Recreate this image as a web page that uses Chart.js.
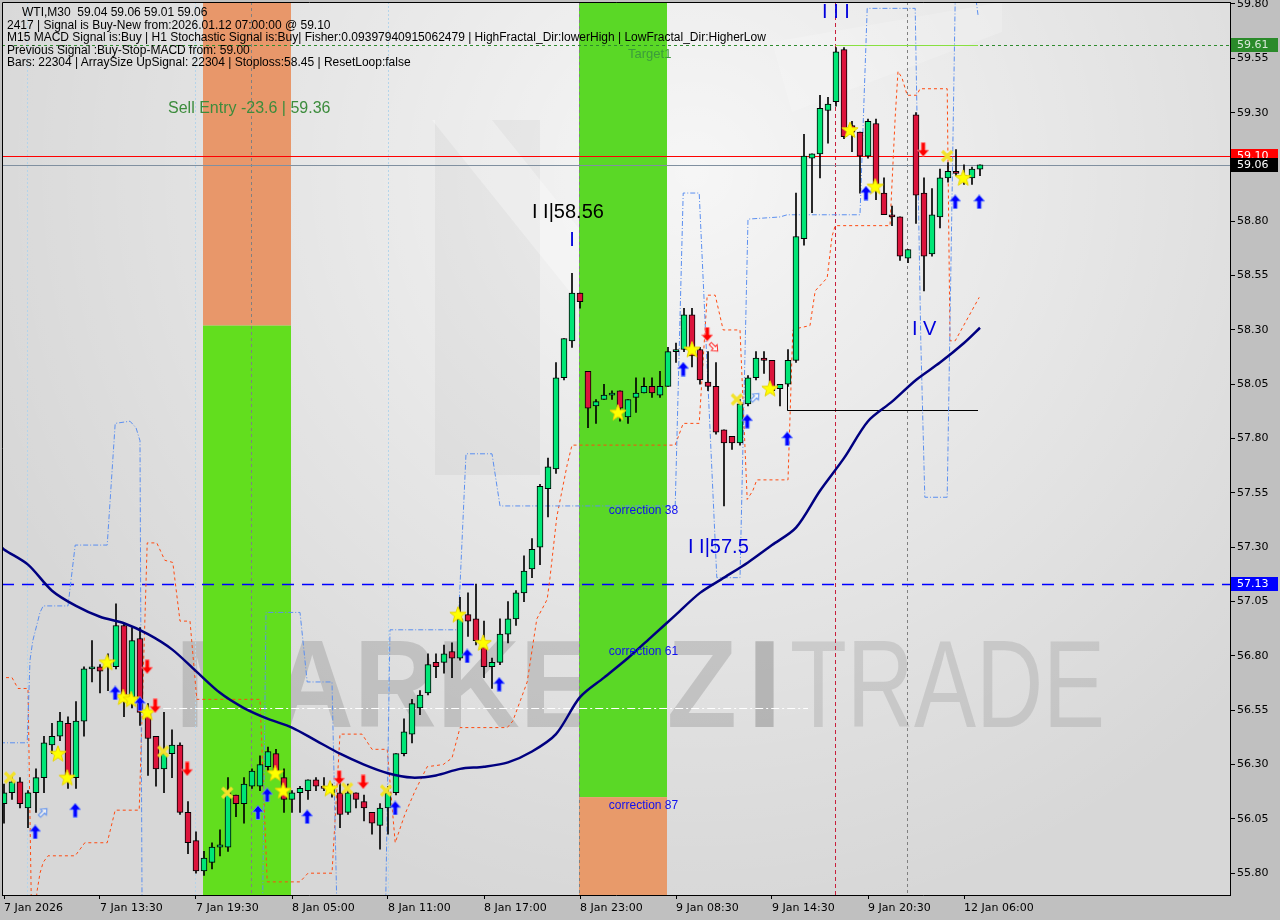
<!DOCTYPE html>
<html>
<head>
<meta charset="utf-8">
<script src="https://cdn.jsdelivr.net/npm/chart.js@4.4.1/dist/chart.umd.min.js"></script>
<style>
  body { margin: 0; background: #c0c0c0; }
  #wrap { position: relative; width: 1280px; height: 920px; }
  #hdr { position: absolute; left: 0; top: 6px; font: 12px "Liberation Sans", Arial, sans-serif; line-height: 12.5px; color: #000; pointer-events: none; }
  #hdr div { white-space: pre; height: 12.5px; }
</style>
</head>
<body>
<div id="wrap">
  <canvas id="chart" width="1280" height="920"></canvas>
  <div id="hdr">
    <div style="padding-left:22px">WTI,M30  59.04 59.06 59.01 59.06</div>
    <div style="padding-left:7px">2417 | Signal is Buy-New from:2026.01.12 07:00:00 @ 59.10</div>
    <div style="padding-left:7px">M15 MACD Signal is:Buy | H1 Stochastic Signal is:Buy| Fisher:0.09397940915062479 | HighFractal_Dir:lowerHigh | LowFractal_Dir:HigherLow</div>
    <div style="padding-left:7px">Previous Signal :Buy-Stop-MACD from: 59.00</div>
    <div style="padding-left:7px">Bars: 22304 | ArraySize UpSignal: 22304 | Stoploss:58.45 | ResetLoop:false</div>
  </div>
</div>
<script>
// M30 candles, index 0 = first bar on screen
const opens = [56.12,56.17,56.22,56.10,56.17,56.24,56.39,56.43,56.49,56.24,
  56.50,56.74,56.75,56.75,56.75,56.94,56.61,56.88,56.54,56.43,
  56.28,56.35,56.39,56.08,55.95,55.81,55.85,55.92,55.92,56.16,
  56.12,56.20,56.20,56.29,56.35,56.24,56.14,56.17,56.18,56.23,
  56.20,56.17,56.17,56.08,56.17,56.13,56.08,56.02,56.10,56.17,
  56.35,56.44,56.56,56.63,56.77,56.77,56.82,56.79,56.99,56.97,
  56.84,56.75,56.77,56.90,56.97,57.09,57.20,57.30,57.57,57.66,
  58.08,58.25,58.47,58.11,57.95,57.98,58.00,58.02,57.90,57.99,
  58.01,58.04,58.00,58.04,58.20,58.21,58.37,58.21,58.06,58.04,
  57.84,57.81,57.78,57.96,58.08,58.17,58.16,58.03,58.05,58.16,
  58.72,59.09,59.11,59.31,59.35,59.59,59.24,59.21,59.10,59.25,
  58.93,58.83,58.82,58.63,59.29,58.93,58.65,58.82,59.00,59.03,
  59.00,59.00,59.04]
const highs = [56.21,56.25,56.24,56.18,56.28,56.43,56.49,56.54,56.52,56.59,
  56.75,56.87,56.76,56.81,57.04,56.95,56.93,56.93,56.58,56.43,
  56.54,56.46,56.40,56.13,55.99,55.90,55.94,56.00,56.24,56.16,
  56.24,56.28,56.34,56.38,56.37,56.28,56.18,56.20,56.23,56.24,
  56.24,56.21,56.26,56.21,56.17,56.16,56.08,56.12,56.20,56.35,
  56.51,56.60,56.64,56.81,56.81,56.85,56.86,57.07,57.09,57.13,
  56.96,56.79,56.97,57.05,57.10,57.26,57.34,57.59,57.71,58.15,
  58.26,58.56,58.47,58.11,57.98,58.05,58.02,58.02,57.98,58.08,
  58.08,58.08,58.11,58.22,58.24,58.40,58.40,58.22,58.20,58.15,
  57.84,57.81,57.98,58.09,58.20,58.20,58.16,58.05,58.21,58.93,
  59.20,59.11,59.38,59.37,59.60,59.60,59.26,59.21,59.27,59.27,
  59.00,58.87,58.82,58.67,59.30,59.00,58.95,59.04,59.07,59.13,
  59.06,59.05,59.06]
const lows = [56.03,56.14,56.10,56.01,56.08,56.17,56.35,56.41,56.19,56.19,
  56.43,56.68,56.63,56.64,56.74,56.52,56.56,56.48,56.25,56.20,
  56.17,56.24,56.07,55.89,55.80,55.79,55.82,55.88,55.90,56.06,
  56.03,56.19,56.18,56.27,56.25,56.08,56.08,56.08,56.14,56.18,
  56.18,56.15,56.01,56.07,56.10,56.04,55.98,55.91,55.98,56.16,
  56.34,56.40,56.53,56.62,56.70,56.72,56.70,56.78,56.89,56.85,
  56.70,56.65,56.76,56.86,56.94,57.05,57.16,57.22,57.44,57.64,
  58.07,58.22,58.40,57.85,57.87,57.98,57.98,57.88,57.87,57.92,
  58.01,57.99,57.99,58.04,58.15,58.20,58.13,58.05,58.02,57.82,
  57.49,57.75,57.77,57.95,58.07,58.10,58.01,57.95,58.04,58.15,
  58.69,58.84,59.00,59.16,59.33,59.18,59.12,58.93,59.09,58.90,
  58.83,58.78,58.62,58.61,58.79,58.48,58.64,58.77,58.98,59.01,
  58.97,58.97,59.01]
const closes = [56.17,56.22,56.12,56.17,56.24,56.40,56.43,56.50,56.24,56.50,
  56.74,56.75,56.73,56.78,56.94,56.61,56.87,56.54,56.42,56.28,
  56.35,56.39,56.08,55.94,55.81,55.87,55.92,55.93,56.17,56.12,
  56.21,56.27,56.30,56.36,56.27,56.14,56.17,56.19,56.23,56.20,
  56.19,56.19,56.07,56.17,56.14,56.10,56.03,56.10,56.17,56.35,
  56.45,56.58,56.62,56.76,56.75,56.81,56.79,56.97,56.96,56.87,
  56.75,56.77,56.90,56.97,57.09,57.19,57.29,57.58,57.67,58.08,
  58.26,58.47,58.43,57.94,57.97,58.00,58.01,57.94,57.98,58.01,
  58.04,58.01,58.04,58.20,58.21,58.37,58.18,58.07,58.04,57.83,
  57.78,57.78,57.96,58.08,58.17,58.16,58.02,58.05,58.16,58.73,
  59.10,59.11,59.32,59.34,59.58,59.19,59.21,59.10,59.26,58.97,
  58.83,58.82,58.64,58.67,58.92,58.64,58.83,59.00,59.03,59.02,
  59.01,59.04,59.06]

// axis ticks
const xTickBars = [0, 12, 24, 36, 48, 60, 72, 84, 96, 108, 120]
const xTickLabels = ['7 Jan 2026', '7 Jan 13:30', '7 Jan 19:30', '8 Jan 05:00', '8 Jan 11:00', '8 Jan 17:00',
  '8 Jan 23:00', '9 Jan 08:30', '9 Jan 14:30', '9 Jan 20:30', '12 Jan 06:00']
const yTicks = [55.80, 56.05, 56.30, 56.55, 56.80, 57.05, 57.30, 57.55, 57.80, 58.05, 58.30, 58.55, 58.80, 59.05, 59.30, 59.55, 59.80]

// moving average read at some bars
const maBars = [-0.5, 0, 3, 6, 9, 12, 15, 18, 21, 24, 27, 30, 33, 36, 39, 42, 45, 48, 51, 54, 57, 60, 63, 66, 69, 72,
  75, 78, 81, 84, 87, 90, 93, 96, 99, 102, 105, 108, 111, 114, 117, 120, 122]
const maValues = [57.31, 57.29, 57.22, 57.10, 57.03, 56.98, 56.95, 56.90, 56.83, 56.73, 56.63, 56.56, 56.51, 56.47,
  56.41, 56.35, 56.30, 56.26, 56.24, 56.25, 56.28, 56.29, 56.31, 56.36, 56.44, 56.61,
  56.70, 56.79, 56.89, 56.99, 57.09, 57.16, 57.23, 57.31, 57.39, 57.56, 57.71, 57.88, 57.97, 58.07, 58.15, 58.24, 58.31]

// fractal channels [bar, price]
const upperChannel = [[-0.5,56.40],[2.9,56.40],[3.25,56.78],[3.6,56.87],[4.5,57.00],[4.9,57.03],[8.0,57.03],[8.9,57.31],
  [12.9,57.31],[13.9,57.87],[15.75,57.88],[16.5,57.85],[17.0,57.79],[17.25,55.70],[17.6,55.40],[32.25,55.40],
  [32.75,57.00],[37.0,57.00],[37.9,56.68],[41.0,56.68],[41.75,55.40],[47.6,55.40],[48.25,56.92],[56.75,56.92],
  [57.75,57.73],[61.0,57.73],[62.0,57.49],[83.9,57.49],[84.9,58.93],[86.9,58.93],[89.1,57.16],[92.0,57.16],
  [93.0,58.81],[97.0,58.82],[97.9,58.83],[107.0,58.83],[107.9,59.78],[113.9,59.78],[114.6,58.25],[115.1,57.53],
  [117.9,57.53],[118.6,59.13],[118.9,59.82],[121.4,59.85],[121.75,59.75]]
const lowerChannel = [[-0.5,56.70],[1.0,56.70],[1.75,56.65],[3.0,56.65],[3.4,55.70],[3.6,55.40],[3.9,55.40],[4.1,55.71],
  [4.5,55.80],[4.9,55.85],[5.5,55.88],[8.9,55.88],[10.1,55.94],[12.9,55.94],[13.9,56.09],[16.9,56.09],
  [17.9,57.32],[19.1,57.32],[20.1,57.24],[21.1,57.23],[22.0,56.96],[23.25,56.96],[24.1,56.60],[32.0,56.60],
  [32.9,55.76],[37.0,55.76],[38.0,55.80],[41.0,55.80],[42.0,56.44],[44.75,56.44],[46.0,56.37],[47.9,56.37],
  [48.9,55.94],[50.1,56.07],[51.4,56.18],[52.9,56.29],[54.9,56.30],[56.0,56.33],[57.0,56.47],[62.9,56.47],
  [63.6,56.50],[65.4,56.68],[66.6,56.97],[67.9,57.06],[68.25,57.16],[69.1,57.44],[70.4,57.68],[71.0,57.77],
  [83.9,57.77],[84.9,57.87],[86.9,57.87],[87.9,58.46],[88.9,58.46],[89.9,58.30],[92.0,58.30],[92.9,57.52],
  [93.6,57.56],[94.1,57.61],[98.0,57.61],[98.6,58.30],[99.5,58.31],[100.75,58.32],[101.4,58.48],[102.9,58.54],
  [103.5,58.73],[103.9,58.78],[110.75,58.78],[111.4,59.28],[111.75,59.49],[112.25,59.46],[112.9,59.38],
  [114.1,59.38],[114.5,59.41],[117.9,59.41],[118.25,58.25],[118.9,58.25],[121.9,58.45]]

// signal markers [bar, price]
const starMarks = [[6.75,56.35],[7.9,56.24],[12.9,56.77],[14.9,56.61],[15.9,56.60],[17.9,56.54],[33.9,56.26],
  [34.9,56.18],[40.75,56.19],[56.75,56.99],[59.9,56.86],[76.75,57.92],[86.0,58.21],[95.75,58.03],
  [105.75,59.22],[108.9,58.96],[119.9,59.00]]
const crossMarks = [[0.75,56.24],[19.9,56.36],[27.9,56.17],[42.9,56.19],[47.75,56.18],[91.6,57.98],[117.9,59.10]]
const upArrows = [[3.9,55.99],[8.9,56.09],[13.9,56.63],[17.0,56.58],[31.75,56.08],[32.9,56.16],[37.9,56.06],
  [48.9,56.10],[57.9,56.80],[61.9,56.67],[84.9,58.12],[92.9,57.88],[97.9,57.80],[107.75,58.93],[118.9,58.89],[121.9,58.89]]
const downArrows = [[17.9,56.75],[18.9,56.57],[22.9,56.28],[41.9,56.24],[44.9,56.22],[87.9,58.28],[114.9,59.13]]
const hollowUp = [[4.9,56.08], [93.9,57.99]]
const hollowDown = [[88.75,58.22]]

// zones: [fromBar, toBar, splitPrice, upperColor, lowerColor]
const zones = [[24.875, 35.875, 58.32, '#e8976a', '#62de1e'], [71.875, 82.875, 56.15, '#5ad826', '#e89a6a']]
const vLines = [[2.9, '#b4d4ea', [2, 2]], [23.9, '#b4d4ea', [2, 2]], [48.0, '#b4d4ea', [2, 2]],
  [30.9, '#808080', [3, 3]], [71.9, '#808080', [3, 3]], [103.9, '#c8203c', [4, 3]], [112.9, '#808080', [3, 3]]]
const hLines = [[59.61, '#2e8b2e', [3, 3]], [59.10, '#ff0000', []], [59.06, '#8090a0', []], [57.13, '#0000ff', [12, 8]]]
const hSegments = [[19.9, 100.5, 56.56, '#ffffff', [8, 3, 2, 3]], [97.9, 121.75, 57.93, '#000000', []],
  [103.9, 121.75, 59.61, '#88e040', []]]
const vSegments = [[97.9, 57.93, 58.16, '#000000']]
const priceTags = [[59.61, '#2a8a2a', '#d8e8d8'], [59.10, '#ff0000', '#ffffff'], [59.06, '#000000', '#ffffff'], [57.13, '#0000ff', '#ffffff']]
// texts: [text, bar, price, colour, font, align]
const chartTexts = [
  ['Sell Entry -23.6 | 59.36', 20.5, 59.32, '#3c8c3c', '16px "Liberation Sans"', 'left'],
  ['Target1', 78, 59.57, '#3c9c3c', '13px "Liberation Sans"', 'left'],
  ['I I I', 104, 59.76, '#0000dd', '20px "Liberation Sans"', 'center'],
  ['I I|58.56', 66, 58.84, '#000000', '20px "Liberation Sans"', 'left'],
  ['I', 71, 58.71, '#0000dd', '20px "Liberation Sans"', 'center'],
  ['I I|57.5', 85.5, 57.30, '#0000dd', '20px "Liberation Sans"', 'left'],
  ['I V', 113.5, 58.30, '#0000dd', '20px "Liberation Sans"', 'left'],
  ['correction 38', 75.6, 57.47, '#1010f0', '12px "Liberation Sans"', 'left'],
  ['correction 61', 75.6, 56.82, '#1010f0', '12px "Liberation Sans"', 'left'],
  ['correction 87', 75.6, 56.11, '#1010f0', '12px "Liberation Sans"', 'left']
]

function makeStar() {
    const c = document.createElement('canvas'); c.width = c.height = 18
    const g = c.getContext('2d')
    g.beginPath()
    for (let k = 0; k < 10; k++) {
        const r = k % 2 ? 3.6 : 8.5
        const a = -Math.PI / 2 + k * Math.PI / 5
        g.lineTo(9 + r * Math.cos(a), 9.5 + r * Math.sin(a))
    }
    g.closePath()
    g.fillStyle = '#ffff00'; g.fill()
    g.strokeStyle = '#e8d400'; g.lineWidth = 1; g.stroke()
    return c
}

function makeCross() {
    const c = document.createElement('canvas'); c.width = c.height = 14
    const g = c.getContext('2d')
    g.strokeStyle = '#f2e22a'; g.lineWidth = 3.2
    g.beginPath(); g.moveTo(2, 2); g.lineTo(12, 12); g.moveTo(12, 2); g.lineTo(2, 12); g.stroke()
    return c
}

function arrowPath(g) {
    g.beginPath()
    g.moveTo(6, 0.5); g.lineTo(11.5, 7); g.lineTo(8, 7); g.lineTo(8, 14.5); g.lineTo(4, 14.5); g.lineTo(4, 7); g.lineTo(0.5, 7)
    g.closePath()
}

function makeArrow(color, up) {
    const c = document.createElement('canvas'); c.width = 12; c.height = 15
    const g = c.getContext('2d')
    if (!up) { g.translate(0, 15); g.scale(1, -1) }
    arrowPath(g)
    g.fillStyle = color; g.fill()
    g.strokeStyle = up ? 'rgba(120,150,255,0.8)' : 'rgba(255,140,140,0.8)'; g.lineWidth = 1; g.stroke()
    return c
}

// small outlined arrows tilted 45 degrees
function makeHollow(color, up) {
    const c = document.createElement('canvas'); c.width = c.height = 16
    const g = c.getContext('2d')
    g.translate(8, 8); g.rotate(up ? Math.PI / 4 : Math.PI * 3 / 4); g.scale(0.75, 0.75); g.translate(-6, -7.5)
    arrowPath(g)
    g.fillStyle = 'rgba(255,255,255,0.6)'; g.fill()
    g.strokeStyle = color; g.lineWidth = 1.4; g.stroke()
    return c
}

function fitText(ctx, text, font, left, right, baseline, color) {
    ctx.font = font
    const w = ctx.measureText(text).width
    ctx.save()
    ctx.translate(left, baseline)
    ctx.scale((right - left) / w, 1)
    ctx.fillStyle = color
    ctx.fillText(text, 0, 0)
    ctx.restore()
}

function noPad(s) {
    s.paddingTop = 0; s.paddingBottom = 0; s.paddingLeft = 0; s.paddingRight = 0
}

const decor = {
    id: 'decor',
    beforeDraw(chart) {
        const { ctx, chartArea: a } = chart
        ctx.save()
        ctx.fillStyle = '#c0c0c0'
        ctx.fillRect(0, 0, chart.width, chart.height)
        ctx.fillStyle = '#d7d7d7'
        ctx.fillRect(a.left, a.top, a.width, a.height)
        const g = ctx.createRadialGradient(a.left + 690, a.top + 170, 0, a.left + 690, a.top + 170, 760)
        g.addColorStop(0, 'rgba(255,255,255,0.78)')
        g.addColorStop(0.55, 'rgba(255,255,255,0.35)')
        g.addColorStop(1, 'rgba(255,255,255,0)')
        ctx.fillStyle = g
        ctx.fillRect(a.left, a.top, a.width, a.height)
        // faint logo shapes
        ctx.fillStyle = 'rgba(0,0,0,0.035)'
        ctx.fillRect(a.left + 433, a.top + 118, 105, 355)
        ctx.fillStyle = 'rgba(255,255,255,0.3)'
        ctx.beginPath()
        ctx.moveTo(a.left + 430, a.top + 118); ctx.lineTo(a.left + 490, a.top + 118)
        ctx.lineTo(a.left + 660, a.top + 330); ctx.lineTo(a.left + 600, a.top + 330)
        ctx.closePath(); ctx.fill()
        ctx.fillStyle = 'rgba(255,255,255,0.18)'
        ctx.beginPath()
        ctx.moveTo(a.left + 770, a.top + 40); ctx.lineTo(a.left + 1000, a.top)
        ctx.lineTo(a.left + 1000, a.top + 30); ctx.lineTo(a.left + 790, a.top + 110)
        ctx.closePath(); ctx.fill()
        ctx.restore()
    },
    beforeDatasetsDraw(chart) {
        const { ctx, chartArea: a, scales: { x, y } } = chart
        ctx.save()
        ctx.beginPath(); ctx.rect(a.left, a.top, a.width, a.height); ctx.clip()
        // watermark
        fitText(ctx, 'MARKETZ', 'bold 124px "Liberation Sans"', a.left + 173, a.left + 735, a.top + 725, 'rgba(110,110,110,0.26)')
        fitText(ctx, 'I', 'bold 124px "Liberation Sans"', a.left + 745, a.left + 780, a.top + 725, 'rgba(90,90,90,0.32)')
        fitText(ctx, 'TRADE', '124px "Liberation Sans"', a.left + 788, a.left + 1103, a.top + 725, 'rgba(130,130,130,0.24)')
        zones.forEach(([b0, b1, split, upper, lower]) => {
            const x0 = x.getPixelForValue(b0), x1 = x.getPixelForValue(b1), ys = y.getPixelForValue(split)
            ctx.fillStyle = upper; ctx.fillRect(x0, a.top, x1 - x0, ys - a.top)
            ctx.fillStyle = lower; ctx.fillRect(x0, ys, x1 - x0, a.bottom - ys)
        })
        ctx.lineWidth = 1
        vLines.forEach(([b, color, dash]) => {
            const px = Math.round(x.getPixelForValue(b)) + 0.5
            ctx.strokeStyle = color; ctx.setLineDash(dash)
            ctx.beginPath(); ctx.moveTo(px, a.top); ctx.lineTo(px, a.bottom); ctx.stroke()
        })
        hLines.forEach(([p, color, dash]) => {
            const py = Math.round(y.getPixelForValue(p)) + 0.5
            ctx.strokeStyle = color; ctx.setLineDash(dash); ctx.lineWidth = dash.length && dash[0] > 6 ? 1.5 : 1
            ctx.beginPath(); ctx.moveTo(a.left, py); ctx.lineTo(a.right, py); ctx.stroke()
        })
        ctx.lineWidth = 1
        hSegments.forEach(([b0, b1, p, color, dash]) => {
            const py = Math.round(y.getPixelForValue(p)) + 0.5
            ctx.strokeStyle = color; ctx.setLineDash(dash)
            ctx.beginPath(); ctx.moveTo(x.getPixelForValue(b0), py); ctx.lineTo(x.getPixelForValue(b1), py); ctx.stroke()
        })
        ctx.setLineDash([])
        vSegments.forEach(([b, p0, p1, color]) => {
            const px = Math.round(x.getPixelForValue(b)) + 0.5
            ctx.strokeStyle = color
            ctx.beginPath(); ctx.moveTo(px, y.getPixelForValue(p0)); ctx.lineTo(px, y.getPixelForValue(p1)); ctx.stroke()
        })
        ctx.restore()
    },
    afterDatasetsDraw(chart) {
        const { ctx, chartArea: a, scales: { x, y } } = chart
        ctx.save()
        ctx.textBaseline = 'middle'
        chartTexts.forEach(([t, b, p, color, font, align]) => {
            ctx.font = font; ctx.fillStyle = color; ctx.textAlign = align
            ctx.fillText(t, x.getPixelForValue(b), y.getPixelForValue(p))
        })
        ctx.strokeStyle = '#000'; ctx.lineWidth = 1
        ctx.beginPath()
        ctx.moveTo(a.left + 0.5, a.bottom); ctx.lineTo(a.left + 0.5, a.top + 0.5); ctx.lineTo(a.right, a.top + 0.5)
        ctx.stroke()
        ctx.restore()
    },
    afterDraw(chart) {
        const { ctx, chartArea: a, scales: { y } } = chart
        ctx.save()
        ctx.font = '11px "DejaVu Sans"'
        ctx.textBaseline = 'middle'
        priceTags.forEach(([p, bg, fg]) => {
            const py = Math.round(y.getPixelForValue(p))
            ctx.fillStyle = bg; ctx.fillRect(a.right + 1, py - 7, 47, 14)
            ctx.fillStyle = fg; ctx.fillText(p.toFixed(2), a.right + 7, py + 0.5)
        })
        ctx.restore()
    }
}

const starImg = makeStar(), crossImg = makeCross()
const upImg = makeArrow('#0000ff', true), downImg = makeArrow('#ff0000', false)
const hollowUpImg = makeHollow('#5b8ff0', true), hollowDownImg = makeHollow('#ff3030', false)

function markerSet(list, img) {
    return {
        type: 'line', data: list.map(([b, p]) => ({ x: b, y: p })), showLine: false,
        pointStyle: img, pointRadius: 7, order: 0
    }
}

Chart.defaults.font.family = '"DejaVu Sans", sans-serif'
Chart.defaults.font.size = 11
Chart.defaults.color = '#000'

new Chart(document.getElementById('chart').getContext('2d'), {
    type: 'bar',
    data: {
        datasets: [
            markerSet(crossMarks, crossImg),
            markerSet(upArrows, upImg),
            markerSet(downArrows, downImg),
            markerSet(starMarks, starImg),
            markerSet(hollowUp, hollowUpImg),
            markerSet(hollowDown, hollowDownImg),
            {
                type: 'line', data: maBars.map((b, i) => ({ x: b, y: maValues[i] })),
                borderColor: '#000080', borderWidth: 2.5, pointRadius: 0, tension: 0.3, order: 1
            },
            {
                type: 'bar', data: opens.map((o, i) => ({ x: i, y: [o, closes[i]] })),
                backgroundColor: ctx => {
                    const i = ctx.dataIndex
                    return closes[i] >= opens[i] ? '#00e676' : '#dc143c'
                },
                borderColor: '#000', borderWidth: 1, borderSkipped: false,
                barThickness: 6, minBarLength: 2, grouped: false, order: 2
            },
            {
                type: 'bar', data: highs.map((h, i) => ({ x: i, y: [lows[i], h] })),
                backgroundColor: '#000', barThickness: 1, grouped: false, order: 3
            },
            {
                type: 'line', data: upperChannel.map(([b, p]) => ({ x: b, y: p })),
                borderColor: '#5b8ff0', borderWidth: 1, borderDash: [5, 2, 1, 2], pointRadius: 0, order: 4
            },
            {
                type: 'line', data: lowerChannel.map(([b, p]) => ({ x: b, y: p })),
                borderColor: '#ff4a10', borderWidth: 1, borderDash: [3, 3], pointRadius: 0, order: 4
            }
        ]
    },
    options: {
        responsive: false,
        animation: false,
        devicePixelRatio: 1,
        layout: { autoPadding: false, padding: { left: 2, top: 2, right: 0, bottom: 0 } },
        plugins: { legend: { display: false }, tooltip: { enabled: false } },
        scales: {
            x: {
                type: 'linear', min: -0.25, max: 153.25, offset: false,
                grid: { display: true, drawOnChartArea: false, drawTicks: true, tickLength: 4, color: '#000', offset: false },
                border: { display: true, color: '#000' },
                afterBuildTicks: s => { s.ticks = xTickBars.map(v => ({ value: v })) },
                afterFit: s => { s.height = 25; noPad(s) },
                ticks: {
                    autoSkip: false, maxRotation: 0, align: 'start', padding: 3,
                    callback: (v, i) => xTickLabels[i]
                }
            },
            y: {
                type: 'linear', position: 'right', min: 55.6996, max: 59.8092,
                grid: { display: true, drawOnChartArea: false, drawTicks: true, tickLength: 5, color: '#000' },
                border: { display: true, color: '#000' },
                afterBuildTicks: s => { s.ticks = yTicks.map(v => ({ value: v })) },
                afterFit: s => { s.width = 50; noPad(s) },
                ticks: { padding: 2, callback: v => v.toFixed(2) }
            }
        }
    },
    plugins: [decor]
});
</script>
</body>
</html>
